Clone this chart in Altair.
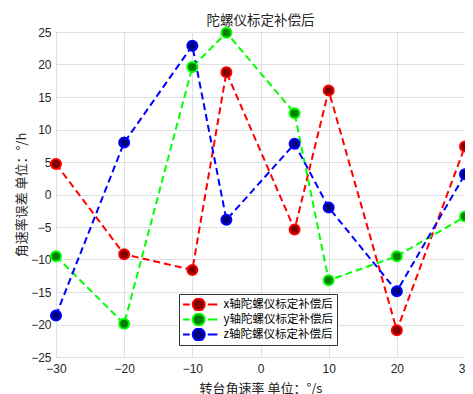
import altair as alt
import pandas as pd

rates = [-30, -20, -10, -5, 5, 10, 20, 30]
x_err = [4.7, -9.2, -11.6, 18.8, -5.4, 16.0, -20.9, 7.4]
y_err = [-9.5, -19.9, 19.6, 24.9, 12.5, -13.2, -9.5, -3.4]
z_err = [-18.6, 8.0, 22.9, -3.9, 7.8, -2.0, -14.9, 3.1]
series_names = ["x轴陀螺仪标定补偿后", "y轴陀螺仪标定补偿后", "z轴陀螺仪标定补偿后"]
line_colors = ["#ff0000", "#00ff00", "#0000ff"]
face_colors = ["#800000", "#007f00", "#000080"]
x_ticks = [-30, -20, -10, 0, 10, 20, 30]
y_ticks = [-25, -20, -15, -10, -5, 0, 5, 10, 15, 20, 25]

rows = []
for name, vals in zip(series_names, [x_err, y_err, z_err]):
    for r, v in zip(rates, vals):
        rows.append({"rate": r, "err": v, "series": name})
df = pd.DataFrame(rows)

xenc = alt.X("rate:Q", scale=alt.Scale(domain=[-30, 30], nice=False),
             axis=alt.Axis(values=x_ticks, title="转台角速率  单位：°/s", labelFlush=False))
yenc = alt.Y("err:Q", scale=alt.Scale(domain=[-25, 25], nice=False),
             axis=alt.Axis(values=y_ticks, title="角速率误差  单位：°/h", labelFlush=False))

sym_path = "M-4.65,0L-2.25,0M2.25,0L4.65,0M-1.5,0A1.5,1.5,0,1,1,1.5,0A1.5,1.5,0,1,1,-1.5,0Z"
leg = alt.Legend(title=None, orient="none", legendX=123, legendY=262,
                 symbolType=sym_path, symbolSize=64, symbolStrokeWidth=2,
                 symbolOffset=10, labelOffset=19, rowPadding=2, clipHeight=13)
stroke_scale = alt.Scale(domain=series_names, range=line_colors)

lines = alt.Chart(df).mark_line(strokeDash=[7, 4], strokeWidth=2).encode(
    x=xenc, y=yenc,
    stroke=alt.Stroke("series:N", scale=stroke_scale, legend=leg),
)

points = alt.Chart(df).mark_point(filled=True, size=100, strokeWidth=2, opacity=1).encode(
    x=xenc, y=yenc,
    stroke=alt.Stroke("series:N", scale=stroke_scale, legend=leg),
    fill=alt.Fill("series:N", scale=alt.Scale(domain=series_names, range=face_colors), legend=leg),
)

chart = alt.layer(lines, points).properties(
    width=409, height=325,
    title=alt.TitleParams("陀螺仪标定补偿后", offset=5, dy=9),
    padding={"left": 48, "top": 24, "right": 0, "bottom": 37},
    autosize=alt.AutoSizeParams(type="none"),
).configure_view(
    stroke="#404040", strokeWidth=1
).configure_axis(
    labelFont="Liberation Sans", labelFontSize=12, labelColor="#262626",
    titleFont="Noto Sans CJK SC", titleFontSize=13, titleColor="#262626", titleFontWeight="normal",
    gridColor="#e0e0e0", domain=False, ticks=False, labelPadding=5,
).configure_axisY(
    titlePadding=2
).configure_axisX(
    titlePadding=8, labelPadding=6
).configure_title(
    font="Noto Sans CJK SC", fontSize=13.5, color="#262626", fontWeight="normal"
).configure_legend(
    labelFont="Noto Sans CJK SC", labelFontSize=11.5, labelColor="black",
    strokeColor="#333333", fillColor="white", padding=4, cornerRadius=0,
)

chart.save("out.html", embed_options={"renderer": "svg", "actions": False})
